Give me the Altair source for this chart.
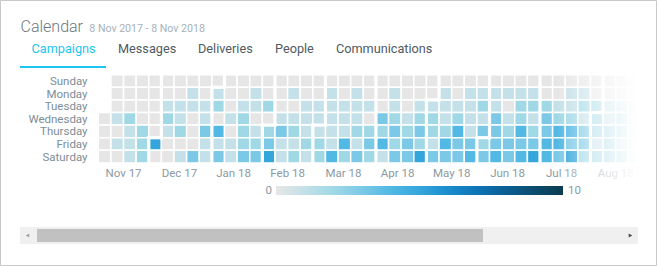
import datetime as dt

import altair as alt
import pandas as pd

# ---------------------------------------------------------------------------
# Data: campaign activity per day, one list per weekday.
# Index = week column, counted from the week starting Sunday 29 Oct 2017.
# None = day before the calendar starts (1 Nov 2017).
# ---------------------------------------------------------------------------
WEEKDAYS = ["Sunday", "Monday", "Tuesday", "Wednesday", "Thursday", "Friday", "Saturday"]
FIRST_SUNDAY = dt.date(2017, 10, 29)

sun = [None, 0, 0, 0, 0, 0, 0, 0, 0, 0, 0, 0, 0, 0, 0, 0, 0, 0, 0, 0, 0, 0,
       0, 0, 0, 0, 0, 0, 0, 0, 0, 0, 0, 0, 0, 0, 0, 0, 0, 0, 0, 0, 0]
mon = [None, 0, 0, 0, 0, 0, 0, 1, 0, 1, 0, 0, 1, 0, 0, 1, 0, 0, 1, 0, 1, 0,
       0, 1, 0, 0, 0, 1, 0, 1, 1, 1, 1, 1, 1, 0, 0, 1, 1, 0, 0, 0, 0]
tue = [None, 0, 0, 0, 0, 1, 1, 1, 1, 2, 0, 1, 1, 2, 0, 0, 1, 1, 1, 1, 1, 1,
       0, 1, 0, 1, 1, 1, 1, 1, 2, 1, 0, 2, 2, 2, 1, 1, 2, 2, 1, 1, 1]
wed = [0, 1, 2, 0, 0, 2, 1, 0, 1, 0, 1, 2, 0, 0, 1, 1, 1, 1, 1, 1, 1, 0,
       3, 2, 1, 2, 2, 1, 2, 1, 1, 3, 1, 2, 1, 3, 2, 2, 1, 2, 1, 2, 1]
thu = [0, 0, 1, 2, 0, 1, 2, 0, 3, 4, 0, 2, 1, 2, 3, 2, 1, 1, 1, 1, 2, 2,
       2, 3, 2, 3, 2, 2, 4, 1, 3, 3, 2, 4, 2, 3, 4, 4, 3, 2, 2, 2, 1]
fri = [0, 1, 1, 2, 5, 0, 0, 0, 1, 1, 1, 2, 2, 3, 1, 1, 2, 2, 1, 4, 1, 3,
       4, 2, 3, 2, 1, 4, 3, 3, 2, 3, 3, 3, 3, 4, 4, 3, 3, 1, 2, 1, 1]
sat = [0, 0, 1, 2, 0, 0, 1, 3, 1, 3, 1, 3, 3, 5, 1, 2, 1, 2, 4, 2, 3, 2,
       1, 3, 3, 5, 3, 3, 3, 4, 3, 4, 3, 4, 5, 4, 3, 5, 2, 2, 2, 2, 1]

# dates the month labels are anchored to
month_ticks = ["2017-11-12", "2017-12-13", "2018-01-12", "2018-02-11", "2018-03-14",
               "2018-04-13", "2018-05-13", "2018-06-13", "2018-07-13", "2018-08-12"]

tabs = ["Campaigns", "Messages", "Deliveries", "People", "Communications"]

legend_min, legend_max = 0, 10
palette_domain = [0, 1, 2, 3, 4, 5, 6, 7, 8, 9, 10]
palette = ["#e6e6e6", "#c4e0e8", "#a0d8e6", "#7bc9e6", "#52b8e4", "#35a6db",
           "#1a8ccd", "#0e74b5", "#0b5f93", "#0b4c6f", "#0b3c50"]

# ---------------------------------------------------------------------------
# Tables
# ---------------------------------------------------------------------------
cells = []
for r, row in enumerate([sun, mon, tue, wed, thu, fri, sat]):
    for c, v in enumerate(row):
        if v is None:
            continue
        d = FIRST_SUNDAY + dt.timedelta(days=7 * c + r)
        cells.append({"x": c, "x2": c + 1, "y": r, "y2": r + 1, "v": v,
                      "date": d.isoformat(), "month": d.month})
cells_df = pd.DataFrame(cells)

# month outlines: edges between neighbouring days of different months
month_of = {(d["x"], d["y"]): d["month"] for d in cells}
h_edges, v_edges = [], []
for (c, r), m in month_of.items():
    below = month_of.get((c, r + 1))
    if below is not None and below != m:
        h_edges.append({"x": c, "x2": c + 1, "y": r + 1})
    right = month_of.get((c + 1, r))
    if right is not None and right != m:
        v_edges.append({"x": c + 1, "y": r, "y2": r + 1})
h_edges_df = pd.DataFrame(h_edges)
v_edges_df = pd.DataFrame(v_edges)

days_df = pd.DataFrame({"day": WEEKDAYS, "y": [i + 0.5 for i in range(7)]})

ticks = [dt.date.fromisoformat(s) for s in month_ticks]
months_df = pd.DataFrame({
    "label": [t.strftime("%b %y") for t in ticks],
    "x": [(t - FIRST_SUNDAY).days / 7 for t in ticks],
})

one = pd.DataFrame({"k": [0]})

# ---------------------------------------------------------------------------
# Chart
# ---------------------------------------------------------------------------
FONT = "Roboto"
X = alt.Scale(domain=[0, 43], range=[98.3, 98.3 + 43 * 12.62], nice=False, zero=False)
Y = alt.Scale(domain=[0, 7], range=[74.7, 74.7 + 7 * 12.6], nice=False, zero=False)
COLOR = alt.Scale(domain=palette_domain, range=palette)

heat = alt.Chart(cells_df).mark_rect(stroke="white", strokeWidth=1.5).encode(
    x=alt.X("x:Q", scale=X, axis=None),
    x2="x2:Q",
    y=alt.Y("y:Q", scale=Y, axis=None),
    y2="y2:Q",
    color=alt.Color("v:Q", scale=COLOR, legend=None),
    tooltip=["date:N", "v:Q"],
)

# white month outlines drawn over the day grid
h_outlines = alt.Chart(h_edges_df).mark_rule(
    stroke="white", strokeWidth=3.2, strokeCap="square"
).encode(x="x:Q", x2="x2:Q", y="y:Q")

v_outlines = alt.Chart(v_edges_df).mark_rule(
    stroke="white", strokeWidth=3.2, strokeCap="square"
).encode(x="x:Q", y="y:Q", y2="y2:Q")

day_labels = alt.Chart(days_df).mark_text(
    align="right", baseline="alphabetic", dy=3.9, font=FONT, fontSize=11.5, color="#7d8d97"
).encode(x=alt.value(87.5), y="y:Q", text="day:N")

month_labels = alt.Chart(months_df).mark_text(
    align="center", baseline="alphabetic", font=FONT, fontSize=11.5, color="#8a9aa3"
).encode(x="x:Q", y=alt.value(177), text="label:N")

# the scrolled calendar fades out on the right
fade = alt.Chart(one).mark_rect(
    fill=alt.Gradient(
        gradient="linear", x1=0, x2=1, y1=0, y2=0,
        stops=[alt.GradientStop(color="rgba(255,255,255,0)", offset=0),
               alt.GradientStop(color="rgba(255,255,255,0.55)", offset=0.45),
               alt.GradientStop(color="#ffffff", offset=1)],
    )
).encode(x=alt.value(556), x2=alt.value(638), y=alt.value(70), y2=alt.value(182))

fade_end = alt.Chart(one).mark_rect(fill="white").encode(
    x=alt.value(637), x2=alt.value(654), y=alt.value(70), y2=alt.value(182))

title = alt.Chart(one).mark_text(
    align="left", baseline="alphabetic", font=FONT, fontSize=16, fontWeight=300, color="#6b7880"
).encode(x=alt.value(20.5), y=alt.value(31.7), text=alt.value("Calendar"))

subtitle = alt.Chart(one).mark_text(
    align="left", baseline="alphabetic", font=FONT, fontSize=10.6, color="#a6b2b9"
).encode(x=alt.value(89.3), y=alt.value(31.7), text=alt.value("8 Nov 2017 - 8 Nov 2018"))

tab_x = [31.5, 118, 198, 275, 336]
tab_layers = []
for i, (name, tx) in enumerate(zip(tabs, tab_x)):
    tab_layers.append(
        alt.Chart(one).mark_text(
            align="left", baseline="alphabetic", font=FONT, fontSize=12.7,
            color="#1cc6ef" if i == 0 else "#4f5a61",
        ).encode(x=alt.value(tx), y=alt.value(52.6), text=alt.value(name))
    )

underline = alt.Chart(one).mark_rect(fill="#1cc6ef").encode(
    x=alt.value(20), x2=alt.value(106), y=alt.value(66), y2=alt.value(68))

legend_bar = alt.Chart(one).mark_rect(
    fill=alt.Gradient(
        gradient="linear", x1=0, x2=1, y1=0, y2=0,
        stops=[alt.GradientStop(color=c, offset=(d - legend_min) / (legend_max - legend_min))
               for d, c in zip(palette_domain, palette)],
    )
).encode(x=alt.value(276), x2=alt.value(563), y=alt.value(186), y2=alt.value(195))

legend_lo = alt.Chart(one).mark_text(
    align="right", baseline="middle", font=FONT, fontSize=11.5, color="#8a9aa3"
).encode(x=alt.value(272), y=alt.value(190.5), text=alt.value(str(legend_min)))

legend_hi = alt.Chart(one).mark_text(
    align="left", baseline="middle", font=FONT, fontSize=11.5, color="#8a9aa3"
).encode(x=alt.value(568), y=alt.value(190.5), text=alt.value(str(legend_max)))

track = alt.Chart(one).mark_rect(fill="#f0f0f0").encode(
    x=alt.value(20), x2=alt.value(638), y=alt.value(227), y2=alt.value(244))
thumb = alt.Chart(one).mark_rect(fill="#c1c1c1").encode(
    x=alt.value(37), x2=alt.value(483), y=alt.value(229), y2=alt.value(242))
arrow_l = alt.Chart(one).mark_point(
    shape="triangle-left", filled=True, size=18, color="#a3a3a3", opacity=1
).encode(x=alt.value(27.5), y=alt.value(235.5))
arrow_r = alt.Chart(one).mark_point(
    shape="triangle-right", filled=True, size=18, color="#4a4a4a", opacity=1
).encode(x=alt.value(630.5), y=alt.value(235.5))

frame = alt.Chart(one).mark_rect(fill="transparent", stroke="#c8c8c8", strokeWidth=1).encode(
    x=alt.value(0.5), x2=alt.value(656.5), y=alt.value(0.5), y2=alt.value(265.5))

chart = alt.layer(
    heat, h_outlines, v_outlines, day_labels, month_labels, fade, fade_end,
    title, subtitle, *tab_layers, underline,
    legend_bar, legend_lo, legend_hi,
    track, thumb, arrow_l, arrow_r, frame,
).properties(
    width=658, height=266, padding=0,
    autosize=alt.AutoSizeParams(type="none"),
    background="white",
).configure_view(stroke=None)

chart.save("out.html", embed_options={"renderer": "svg", "actions": False})
